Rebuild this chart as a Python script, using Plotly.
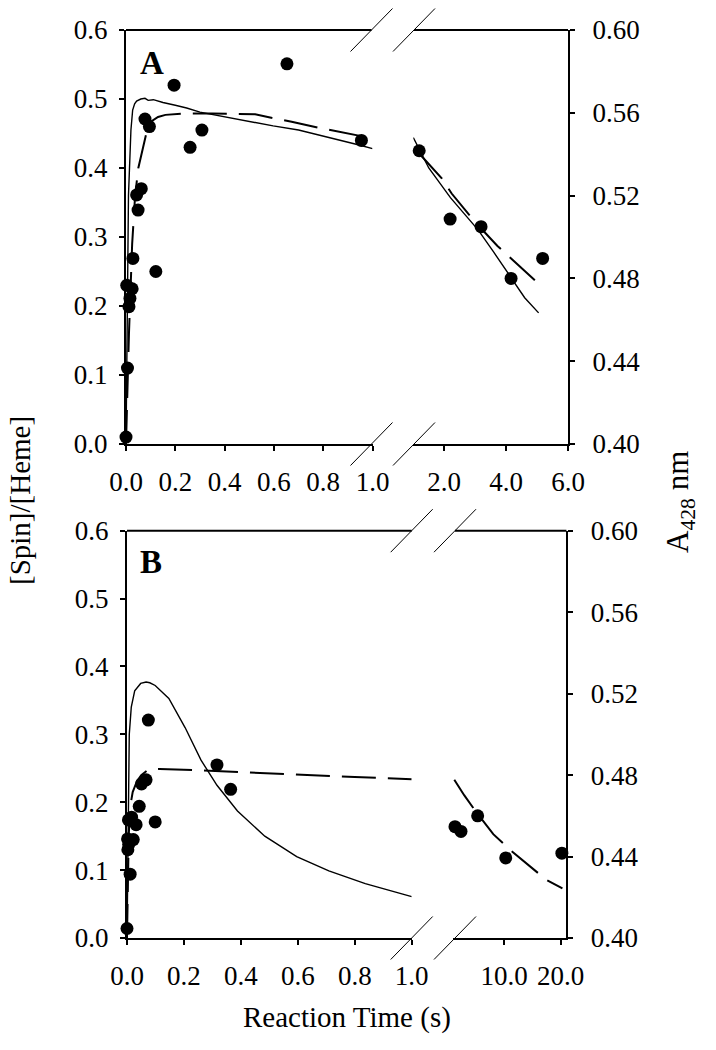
import plotly.graph_objects as go

# ---------------- Panel A data ----------------
a_pts_t = [0.0, 0.006, 0.003, 0.025, 0.016, 0.012, 0.028, 0.043, 0.062, 0.049,
           0.077, 0.095, 0.121, 0.195, 0.26, 0.308, 0.653, 0.955]
a_pts_v = [0.01, 0.11, 0.23, 0.225, 0.211, 0.199, 0.269, 0.361, 0.37, 0.339,
           0.471, 0.46, 0.25, 0.52, 0.43, 0.455, 0.551, 0.44]
a_pts2_t = [1.19, 2.19, 3.19, 4.16, 5.18]
a_pts2_v = [0.425, 0.326, 0.315, 0.240, 0.269]

a_solid_t = [0.0, 0.004, 0.007, 0.010, 0.015, 0.020, 0.027, 0.035, 0.043, 0.06,
             0.077, 0.09, 0.111, 0.15, 0.2, 0.246, 0.30, 0.40, 0.50, 0.597,
             0.70, 0.782, 0.828, 0.875, 0.95, 1.0]
a_solid_v = [0.0, 0.10, 0.25, 0.36, 0.42, 0.455, 0.484, 0.493, 0.497, 0.500,
             0.501, 0.498, 0.499, 0.495, 0.491, 0.487, 0.481, 0.474, 0.467, 0.461,
             0.455, 0.448, 0.443, 0.439, 0.433, 0.428]
a_solid2_t = [1.0, 1.5, 2.2, 2.7, 3.1, 3.6, 4.15, 4.6, 5.05]
a_solid2_v = [0.444, 0.40, 0.357, 0.33, 0.31, 0.278, 0.242, 0.212, 0.19]

a_dash_t = [0.0, 0.004, 0.012, 0.025, 0.037, 0.05, 0.057, 0.068, 0.081, 0.104,
            0.13, 0.16, 0.232, 0.35, 0.524, 0.60, 0.672, 0.80, 0.893, 1.0]
a_dash_v = [0.0, 0.06, 0.16, 0.29, 0.36, 0.40, 0.41, 0.43, 0.448, 0.468,
            0.474, 0.477, 0.479, 0.479, 0.478, 0.472, 0.467, 0.457, 0.450, 0.443]
a_dash2_t = [1.19, 1.92, 2.24, 2.99, 3.72, 4.94]
a_dash2_v = [0.421, 0.385, 0.363, 0.322, 0.287, 0.237]

# ---------------- Panel B data ----------------
b_pts_t = [0.0, 0.011, 0.003, 0.006, 0.002, 0.022, 0.005, 0.016, 0.032, 0.043,
           0.051, 0.067, 0.075, 0.099, 0.316, 0.364]
b_pts_v = [0.014, 0.094, 0.130, 0.138, 0.146, 0.145, 0.174, 0.178, 0.167, 0.194,
           0.227, 0.233, 0.321, 0.171, 0.255, 0.219]
b_pts2_t = [1.35, 2.41, 5.35, 10.3, 20.2]
b_pts2_v = [0.164, 0.157, 0.180, 0.118, 0.125]

b_solid_t = [0.0, 0.002, 0.004, 0.008, 0.015, 0.027, 0.048, 0.067, 0.08, 0.099,
             0.147, 0.204, 0.26, 0.316, 0.388, 0.484, 0.596, 0.709, 0.837, 1.0]
b_solid_v = [0.0, 0.10, 0.20, 0.30, 0.34, 0.364, 0.375, 0.377, 0.376, 0.372,
             0.353, 0.310, 0.262, 0.225, 0.187, 0.150, 0.120, 0.099, 0.080, 0.061]

b_dash_t = [0.0, 0.003, 0.006, 0.011, 0.02, 0.035, 0.05, 0.075, 0.115, 0.2,
            0.308, 0.45, 0.613, 0.8, 1.0]
b_dash_v = [0.0, 0.09, 0.15, 0.193, 0.215, 0.231, 0.240, 0.248, 0.249, 0.248,
            0.246, 0.243, 0.240, 0.237, 0.234]
b_dash2_t = [1.23, 3.0, 4.88, 6.5, 8.1, 11.05, 14.9, 17.4, 20.3]
b_dash2_v = [0.233, 0.21, 0.188, 0.17, 0.153, 0.130, 0.103, 0.086, 0.073]

# ---------------- tick labels ----------------
left_x_ticks = [0.0, 0.2, 0.4, 0.6, 0.8, 1.0]
left_x_text = ["0.0", "0.2", "0.4", "0.6", "0.8", "1.0"]
a_right_x_ticks = [2.0, 4.0, 6.0]
a_right_x_text = ["2.0", "4.0", "6.0"]
b_right_x_ticks = [10.0, 20.0]
b_right_x_text = ["10.0", "20.0"]
spin_ticks = [0.0, 0.1, 0.2, 0.3, 0.4, 0.5, 0.6]
abs_ticks = [0.40, 0.44, 0.48, 0.52, 0.56, 0.60]

W, H = 716, 1050
FONT = "Liberation Serif"


def fx(px):
    return px / W


def fy(py):
    return 1 - py / H


fig = go.Figure()


def add_panel(xa, ya, yr, pts, pts2, solid, solid2, dash, dash2):
    line_s = dict(color="black", width=1.4)
    line_d = dict(color="black", width=2, dash="34px,12px")
    fig.add_trace(go.Scatter(x=solid[0], y=solid[1], mode="lines", line=line_s,
                             xaxis=xa[0], yaxis=ya, cliponaxis=False))
    fig.add_trace(go.Scatter(x=dash[0], y=dash[1], mode="lines", line=line_d,
                             xaxis=xa[0], yaxis=ya, cliponaxis=False))
    if solid2 is not None:
        fig.add_trace(go.Scatter(x=solid2[0], y=solid2[1], mode="lines", line=line_s,
                                 xaxis=xa[1], yaxis=ya, cliponaxis=False))
    fig.add_trace(go.Scatter(x=dash2[0], y=dash2[1], mode="lines", line=line_d,
                             xaxis=xa[1], yaxis=ya, cliponaxis=False))
    mk = dict(color="black", size=13)
    fig.add_trace(go.Scatter(x=pts[0], y=pts[1], mode="markers", marker=mk,
                             xaxis=xa[0], yaxis=ya, cliponaxis=False))
    fig.add_trace(go.Scatter(x=pts2[0], y=pts2[1], mode="markers", marker=mk,
                             xaxis=xa[1], yaxis=ya, cliponaxis=False))
    # empty trace so that the right-hand A428 axis is built
    fig.add_trace(go.Scatter(x=[], y=[], mode="markers", xaxis=xa[1], yaxis=yr,
                             hoverinfo="skip"))


add_panel(("x", "x2"), "y", "y2", (a_pts_t, a_pts_v), (a_pts2_t, a_pts2_v),
          (a_solid_t, a_solid_v), (a_solid2_t, a_solid2_v),
          (a_dash_t, a_dash_v), (a_dash2_t, a_dash2_v))
add_panel(("x3", "x4"), "y3", "y4", (b_pts_t, b_pts_v), (b_pts2_t, b_pts2_v),
          (b_solid_t, b_solid_v), None,
          (b_dash_t, b_dash_v), (b_dash2_t, b_dash2_v))

axis_common = dict(showline=True, linecolor="black", linewidth=2, ticks="outside",
                   ticklen=5, tickwidth=1.5, tickcolor="black", showgrid=False,
                   zeroline=False, automargin=False,
                   tickfont=dict(family=FONT, size=27, color="black"))

A_top, A_bot = 30, 444
B_top, B_bot = 530.7, 938

fig.update_layout(
    template="none",
    width=W, height=H, margin=dict(l=0, r=0, t=0, b=0, autoexpand=False),
    paper_bgcolor="white", plot_bgcolor="white", showlegend=False,
    font=dict(family=FONT, color="black"),
    xaxis=dict(domain=[fx(126), fx(372.5)], anchor="y", range=[0, 1.0],
               tickvals=left_x_ticks, ticktext=left_x_text,
               ticklabelstandoff=8, **axis_common),
    xaxis2=dict(domain=[fx(413.3), fx(568)], anchor="y", range=[1.0, 6.0],
                tickvals=a_right_x_ticks, ticktext=a_right_x_text,
                ticklabelstandoff=8, **axis_common),
    yaxis=dict(domain=[fy(A_bot), fy(A_top)], anchor="x", range=[0, 0.6],
               tickvals=spin_ticks, tickformat=".1f", ticklabelstandoff=6, **axis_common),
    yaxis2=dict(overlaying="y", side="right", anchor="x2", range=[0.40, 0.60],
                tickvals=abs_ticks, tickformat=".2f", ticklabelstandoff=12, **axis_common),
    xaxis3=dict(domain=[fx(127), fx(411.7)], anchor="y3", range=[0, 1.0],
                tickvals=left_x_ticks, ticktext=left_x_text,
                ticklabelstandoff=8, **axis_common),
    xaxis4=dict(domain=[fx(453), fx(566.4)], anchor="y3", range=[1.0, 21.0],
                tickvals=b_right_x_ticks, ticktext=b_right_x_text,
                ticklabelstandoff=8, **axis_common),
    yaxis3=dict(domain=[fy(B_bot), fy(B_top)], anchor="x3", range=[0, 0.6],
                tickvals=spin_ticks, tickformat=".1f", ticklabelstandoff=6, **axis_common),
    yaxis4=dict(overlaying="y3", side="right", anchor="x4", range=[0.40, 0.60],
                tickvals=abs_ticks, tickformat=".2f", ticklabelstandoff=12, **axis_common),
)

# frame top lines and axis-break slashes (paper coordinates)
shapes = []
for (x0, x1, yp) in [(126, 371.5, A_top), (414.0, 568, A_top),
                     (127, 411.7, B_top), (455.0, 566.4, B_top)]:
    shapes.append(dict(type="line", xref="paper", yref="paper",
                       x0=fx(x0), x1=fx(x1), y0=fy(yp), y1=fy(yp),
                       line=dict(color="black", width=2)))
for xp, (ytop, ybot) in [(371.5, (A_top, A_bot)), (414.0, (A_top, A_bot)),
                         (411.7, (B_top, B_bot)), (455.0, (B_top, B_bot))]:
    for yp in (ytop, ybot):
        shapes.append(dict(type="line", xref="paper", yref="paper",
                           xsizemode="pixel", xanchor=fx(xp), x0=-21, x1=21,
                           ysizemode="pixel", yanchor=fy(yp), y0=-21.5, y1=21.5,
                           line=dict(color="black", width=1)))
fig.update_layout(shapes=shapes)

ann = [
    dict(text="[Spin]/[Heme]", x=fx(20), y=fy(501), textangle=-90,
         font=dict(family=FONT, size=29)),
    dict(text="A<sub>428</sub> nm", x=fx(680), y=fy(502), textangle=-90,
         font=dict(family=FONT, size=31)),
    dict(text="Reaction Time (s)", x=fx(347), y=fy(1017),
         font=dict(family=FONT, size=29)),
    dict(text="<b>A</b>", x=fx(152), y=fy(63), font=dict(family=FONT, size=33)),
    dict(text="<b>B</b>", x=fx(151), y=fy(562), font=dict(family=FONT, size=33)),
]
for a in ann:
    a.update(xref="paper", yref="paper", showarrow=False, xanchor="center", yanchor="middle")
fig.update_layout(annotations=ann)

fig.write_html("out.html", config={"displayModeBar": False},
               post_script="document.body.style.margin='0px';")
